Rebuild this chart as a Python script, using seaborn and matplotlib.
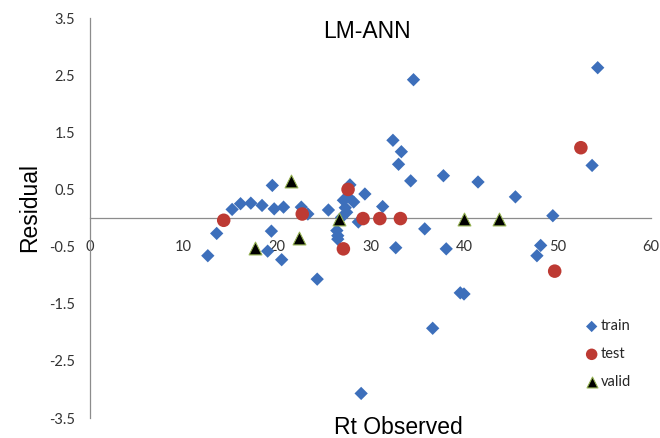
import matplotlib
matplotlib.use("Agg")
import matplotlib.pyplot as plt
import seaborn as sns
import pandas as pd

# ---- data ----
train_x = [12.6, 13.55, 15.2, 16.1, 17.2, 18.4, 19.5, 19.7, 20.7, 19.4, 19.0, 20.5,
           22.6, 23.3, 24.3, 25.5, 26.9, 26.4, 26.5, 26.5, 27.1, 27.3, 27.45, 27.6,
           27.8, 28.2, 28.7, 29.4, 29.0, 31.3, 32.4, 33.3, 33.0, 32.7, 34.3, 34.6,
           35.8, 36.65, 37.8, 38.1, 39.6, 40.0, 41.5, 45.5, 47.8, 48.2, 49.5, 53.7, 54.3]
train_y = [-0.66, -0.27, 0.15, 0.25, 0.26, 0.22, 0.57, 0.16, 0.19, -0.23, -0.58, -0.73,
           0.19, 0.07, -1.07, 0.14, 0.01, -0.22, -0.31, -0.37, 0.31, 0.18, 0.10, 0.37,
           0.58, 0.28, -0.07, 0.42, -3.07, 0.20, 1.36, 1.16, 0.94, -0.52, 0.65, 2.42,
           -0.19, -1.93, 0.74, -0.54, -1.31, -1.33, 0.63, 0.37, -0.66, -0.48, 0.04, 0.92, 2.63]
test_x = [14.3, 22.7, 27.6, 27.1, 29.2, 31.0, 33.2, 49.7, 52.5]
test_y = [-0.04, 0.07, 0.50, -0.54, -0.01, -0.01, -0.01, -0.93, 1.23]
valid_x = [17.7, 21.5, 22.3, 26.6, 40.0, 43.7]
valid_y = [-0.53, 0.65, -0.35, -0.02, -0.01, -0.01]

x_ticks = [0, 10, 20, 30, 40, 50, 60]
y_ticks = [-3.5, -2.5, -1.5, -0.5, 0.5, 1.5, 2.5, 3.5]
title = "LM-ANN"
x_label = "Rt Observed"
y_label = "Residual"

train = pd.DataFrame({"x": train_x, "y": train_y})
test = pd.DataFrame({"x": test_x, "y": test_y})
valid = pd.DataFrame({"x": valid_x, "y": valid_y})

sns.set_style("white")
plt.rcParams["font.family"] = ["Lato", "DejaVu Sans"]

fig = plt.figure(figsize=(6.6, 4.38), dpi=100)
ax = fig.add_axes([90 / 660, 1 - 418 / 438, (651 - 90) / 660, (418 - 18) / 438])

sns.scatterplot(data=train, x="x", y="y", ax=ax, marker="D", s=46, color="#3D6FBB",
                edgecolor="none", linewidth=0, label="train", zorder=3)
sns.scatterplot(data=test, x="x", y="y", ax=ax, marker="o", s=95, color="#BD3A33",
                edgecolor="none", linewidth=0, label="test", zorder=4)
sns.scatterplot(data=valid, x="x", y="y", ax=ax, marker="^", s=85, color="black",
                edgecolor="#93B050", linewidth=0.8, label="valid", zorder=5)

ax.set_xlim(0, 60)
ax.set_ylim(-3.5, 3.5)
ax.set_xticks(x_ticks)
ax.set_yticks(y_ticks)
ax.set_yticklabels([f"{v:.1f}" for v in y_ticks])
ax.set_xticklabels([str(v) for v in x_ticks])

gray = "#8C8C8C"
for s in ["top", "right"]:
    ax.spines[s].set_visible(False)
ax.spines["left"].set_color(gray)
ax.spines["bottom"].set_color(gray)
ax.spines["left"].set_linewidth(0.9)
ax.spines["bottom"].set_linewidth(0.9)
ax.spines["bottom"].set_position(("data", 0))

ax.tick_params(axis="both", direction="out", length=3.5, width=0.8, color=gray,
               labelsize=10.5, labelcolor="#333333")
ax.tick_params(axis="x", pad=12)
ax.tick_params(axis="y", pad=7)

ax.set_xlabel("")
ax.set_ylabel("")
fig.text(398 / 660, 1 - 428 / 438, x_label, ha="center", va="center", fontsize=16.5,
         family=["Liberation Sans", "DejaVu Sans"], color="black")
fig.text(30 / 660, 1 - 208 / 438, y_label, ha="center", va="center", fontsize=16.5,
         rotation=90, family=["Liberation Sans", "DejaVu Sans"], color="black")
fig.text(367 / 660, 1 - 32 / 438, title, ha="center", va="center", fontsize=16.5,
         family=["Liberation Sans", "DejaVu Sans"], color="black")

ax.legend(loc="upper left", bbox_to_anchor=(580 / 660, 1 - 312 / 438),
          bbox_transform=fig.transFigure, frameon=False, fontsize=10.5,
          handlelength=0.6, handletextpad=0.3, labelspacing=0.95, borderpad=0,
          markerscale=0.85)

fig.savefig("out.png", dpi=100)
